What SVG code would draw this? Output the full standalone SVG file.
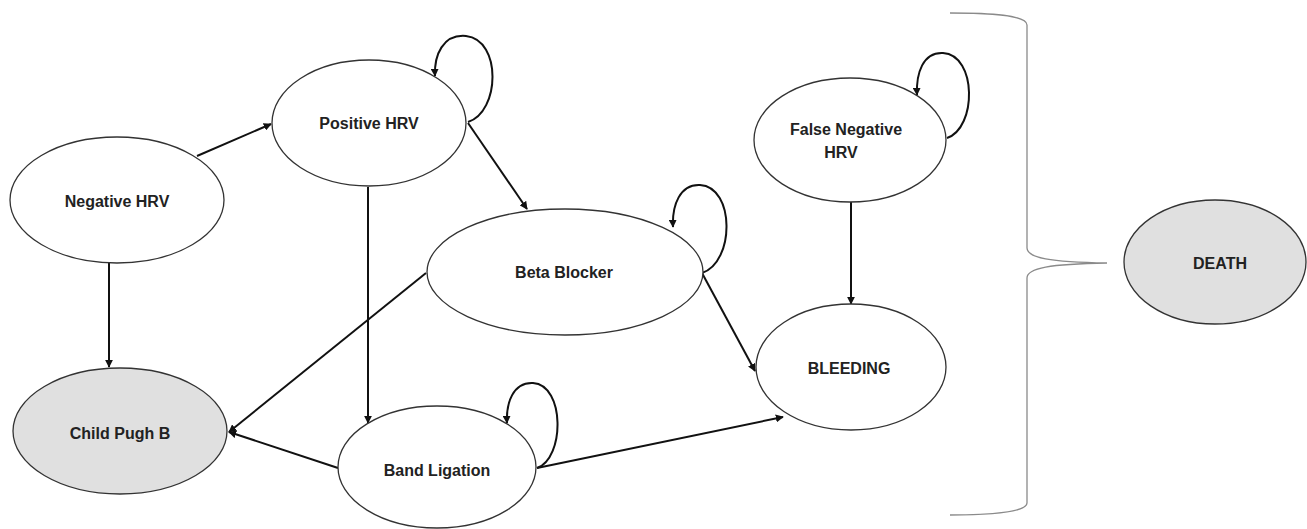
<svg xmlns="http://www.w3.org/2000/svg" width="1307" height="529" viewBox="0 0 1307 529">
<defs>
<style>
.n{fill:#fff;stroke:#333;stroke-width:1.3}
.g{fill:#e0e0e0;stroke:#333;stroke-width:1.3}
.t{font-family:"Liberation Sans",Arial,sans-serif;font-weight:bold;font-size:16px;fill:#222;text-anchor:middle}
.c{fill:none;stroke:#111;stroke-width:2}
.b{fill:none;stroke:#8a8a8a;stroke-width:1.3}
</style>
<marker id="ah" viewBox="0 0 10 10" refX="9" refY="5" markerWidth="8" markerHeight="8" markerUnits="userSpaceOnUse" orient="auto">
<path d="M0,0 L10,5 L0,10 z" fill="#111"/>
</marker>
</defs>
<g id="connectors">
<line class="c" x1="197" y1="156" x2="271" y2="124" marker-end="url(#ah)"/>
<line class="c" x1="109" y1="263" x2="109" y2="367" marker-end="url(#ah)"/>
<line class="c" x1="368" y1="187" x2="368" y2="423" marker-end="url(#ah)"/>
<line class="c" x1="468" y1="123" x2="527" y2="209" marker-end="url(#ah)"/>
<line class="c" x1="702" y1="273" x2="755" y2="371" marker-end="url(#ah)"/>
<line class="c" x1="426" y1="273" x2="229" y2="432" marker-end="url(#ah)"/>
<line class="c" x1="338" y1="468" x2="229" y2="432" marker-end="url(#ah)"/>
<line class="c" x1="537" y1="468" x2="783" y2="417" marker-end="url(#ah)"/>
<line class="c" x1="851" y1="202" x2="851" y2="304" marker-end="url(#ah)"/>
<path class="c" d="M468,122 C500,112 502,40 466,36 C443,34 434,55 435,76" marker-end="url(#ah)"/>
<path class="c" d="M702,273 C735,262 735,187 700,185 C680,184 672,205 673,227" marker-end="url(#ah)"/>
<path class="c" d="M537,468 C565,458 565,385 533,383 C513,382 506,403 507,423" marker-end="url(#ah)"/>
<path class="c" d="M947,138 C977,128 977,55 943,53 C923,52 916,73 917,95" marker-end="url(#ah)"/>
</g>
<g id="brace">
<path class="b" d="M950,13 C990,13 1027,15 1027,25 L1027,248 C1027,258 1050,262 1107,263 C1050,264 1027,268 1027,278 L1027,503 C1027,512 990,515 950,515"/>
</g>
<g id="negative-hrv">
<ellipse class="n" cx="117" cy="200" rx="107" ry="63"/>
<text class="t" x="117" y="207">Negative HRV</text>
</g>
<g id="positive-hrv">
<ellipse class="n" cx="369" cy="123" rx="97" ry="63"/>
<text class="t" x="369" y="129">Positive HRV</text>
</g>
<g id="beta-blocker">
<ellipse class="n" cx="565" cy="272" rx="138" ry="63"/>
<text class="t" x="564" y="278">Beta Blocker</text>
</g>
<g id="false-negative-hrv">
<ellipse class="n" cx="850" cy="140" rx="96" ry="62"/>
<text class="t" x="846" y="135">False Negative</text>
<text class="t" x="841" y="158">HRV</text>
</g>
<g id="bleeding">
<ellipse class="n" cx="851" cy="367" rx="95" ry="63"/>
<text class="t" x="849" y="374">BLEEDING</text>
</g>
<g id="child-pugh-b">
<ellipse class="g" cx="120" cy="431" rx="107" ry="63"/>
<text class="t" x="120" y="439">Child Pugh B</text>
</g>
<g id="band-ligation">
<ellipse class="n" cx="437" cy="467" rx="99" ry="61"/>
<text class="t" x="437" y="476">Band Ligation</text>
</g>
<g id="death">
<ellipse class="g" cx="1215" cy="262" rx="91" ry="62"/>
<text class="t" x="1220" y="269">DEATH</text>
</g>
</svg>
